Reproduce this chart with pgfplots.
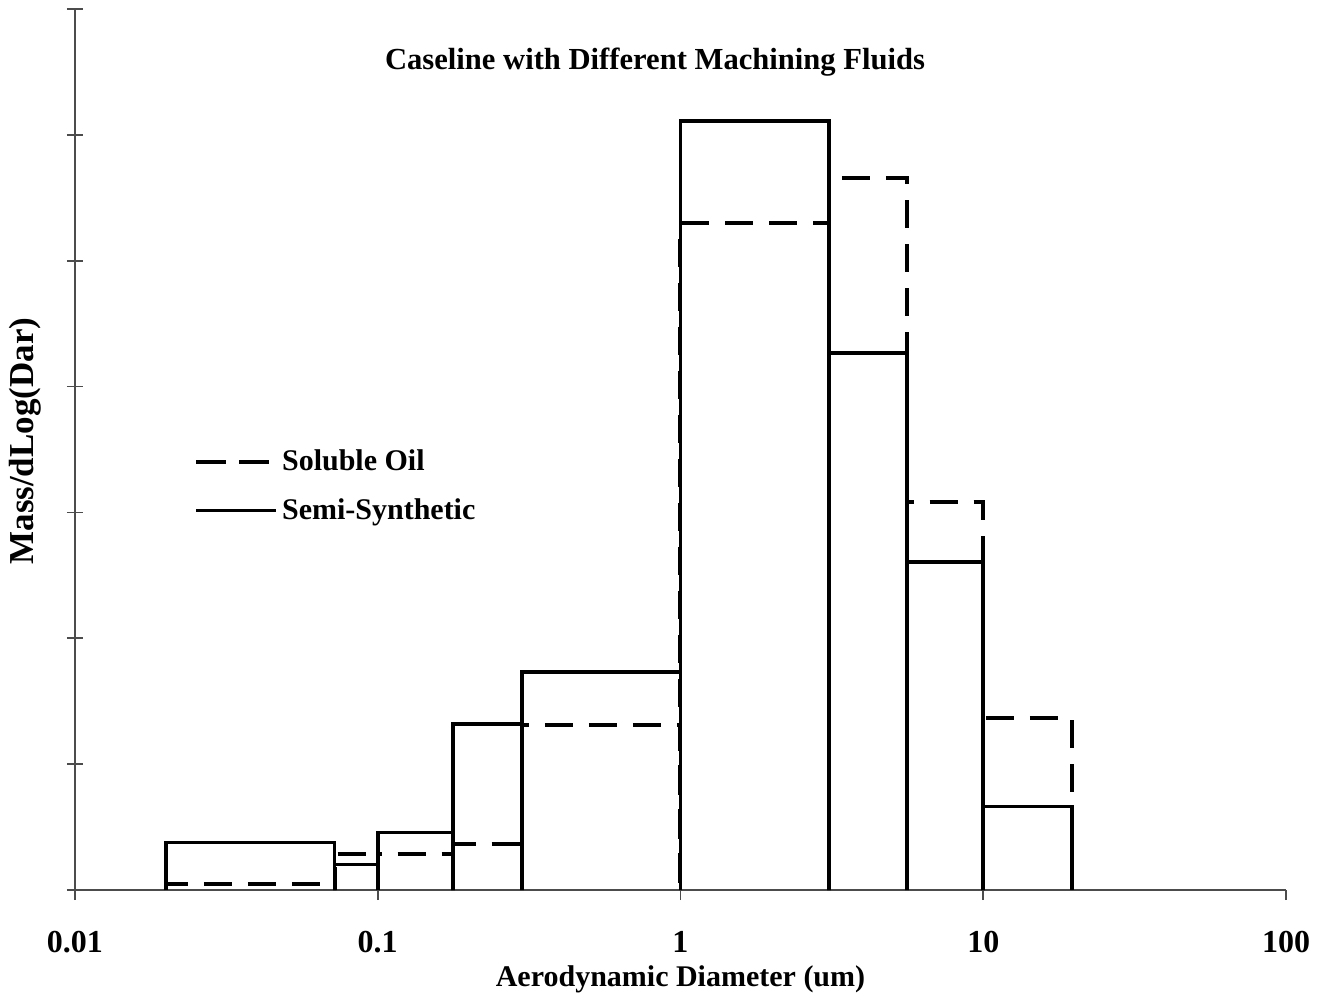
\documentclass[border=0pt]{standalone}
\usepackage{fontspec}
\setmainfont{Liberation Serif}
\usepackage{pgfplots}
\pgfplotsset{compat=1.18}
\begin{document}
\begin{tikzpicture}
\begin{axis}[
  scale only axis,
  width=605.5pt, height=440.5pt,
  xmode=log, xmin=0.01, xmax=100, ymin=0, ymax=7,
  axis lines=left,
  axis line style={-, line width=0.9pt, black!70},
  xtick={0.01,0.1,1,10,100},
  xticklabels={0.01,0.1,1,10,100},
  xminorticks=false,
  ytick={0,1,2,3,4,5,6,7},
  yticklabels={},
  xtick align=outside,
  ytick align=center,
  major tick length=8pt,
  xtick style={/pgfplots/major tick length=5pt, line width=0.9pt, black!70},
  ytick style={line width=0.9pt, black!70},
  tick label style={font=\fontsize{16}{19}\selectfont\bfseries},
  xticklabel style={yshift=-9pt},
  xlabel={Aerodynamic Diameter (um)},
  ylabel={Mass/dLog(Dar)},
  label style={font=\fontsize{15}{18}\selectfont\bfseries},
  xlabel style={at={(axis description cs:0.5,0)}, anchor=center, yshift=-44.5pt},
  ylabel style={at={(axis description cs:0,0.5096)}, anchor=center, yshift=25pt,
    font=\fontsize{17.5}{20}\selectfont\bfseries},
  clip=false,
  legend style={draw=none, fill=none, at={(rel axis cs:0.098,0.4586)}, anchor=west,
    font=\fontsize{15}{18}\selectfont\bfseries, inner sep=0pt, row sep=8.5pt,
    nodes={inner sep=2pt}},
  legend cell align=left,
  legend image code/.code={\draw[#1, dash pattern=] (0pt,0pt) -- (40pt,0pt);},
]
\addplot[black, line width=2pt, dash pattern=on 14pt off 8pt,
  legend image code/.code={\draw[black, line width=2pt, dash pattern=on 15pt off 6.5pt] (0pt,0pt) -- (40pt,0pt);}]
  coordinates {
  (0.02,0) (0.02,0.05) (0.072,0.05) (0.072,0)
  (0.072,0.286) (0.1,0.286) (0.1,0)
  (0.1,0.286) (0.177,0.286) (0.177,0)
  (0.177,0.365) (0.3,0.365) (0.3,0)
  (0.3,1.31) (1,1.31) (1,0)
  (1,5.298) (3.1,5.298) (3.1,0)
  (3.1,5.661) (5.6,5.661) (5.6,0)
  (5.6,3.082) (10,3.082) (10,0)
  (10,1.366) (19.6,1.366) (19.6,0)
  };
\addlegendentry{Soluble Oil}
\addplot[black, line width=1.8pt, line join=miter]
  coordinates {
  (0.02,0) (0.02,0.379) (0.072,0.379) (0.072,0)
  (0.072,0.204) (0.1,0.204) (0.1,0)
  (0.1,0.458) (0.177,0.458) (0.177,0)
  (0.177,1.318) (0.3,1.318) (0.3,0)
  (0.3,1.732) (1,1.732) (1,0)
  (1,6.11) (3.1,6.11) (3.1,0)
  (3.1,4.265) (5.6,4.265) (5.6,0)
  (5.6,2.608) (10,2.608) (10,0)
  (10,0.662) (19.6,0.662) (19.6,0)
  };
\addlegendentry{Semi-Synthetic}
\node[font=\fontsize{15.3}{18}\selectfont\bfseries, anchor=base] at (rel axis cs:0.479,0.9308) {Caseline with Different Machining Fluids};
\end{axis}
\pgfresetboundingbox
\path (current axis.south west) ++(-37.5pt,-54pt) coordinate (bl) ++(660pt,499pt) coordinate (tr);
\path[use as bounding box] (bl) rectangle (tr);
\end{tikzpicture}
\end{document}
